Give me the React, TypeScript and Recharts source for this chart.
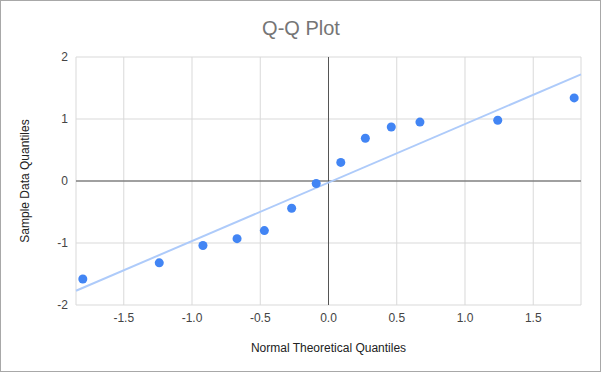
import React from 'react';
import { ScatterChart, Scatter, XAxis, YAxis, CartesianGrid, ReferenceLine } from 'recharts';

// theoretical quantiles (x) and sample quantiles (y)
const theoretical = [-1.8, -1.24, -0.92, -0.67, -0.47, -0.27, -0.09, 0.09, 0.27, 0.46, 0.67, 1.24, 1.8];
const sample = [-1.58, -1.32, -1.04, -0.93, -0.8, -0.44, -0.04, 0.3, 0.69, 0.87, 0.95, 0.98, 1.34];

// fitted line end points
const trendX = [-1.85, 1.85];
const trendY = [-1.77, 1.72];

const xTicks = [-1.5, -1.0, -0.5, 0, 0.5, 1.0, 1.5];
const yTicks = [-2, -1, 0, 1, 2];

const points = theoretical.map((x, i) => ({ x, y: sample[i] }));
const trend = trendX.map((x, i) => ({ x, y: trendY[i] }));

const FONT = '"Liberation Sans", Arial, sans-serif';

const App = () => {
  return (
    <div style={{ position: 'absolute', left: 0, top: 0, width: 601, height: 372, boxSizing: 'border-box', border: '1px solid #a8a8a8', background: '#fff', fontFamily: FONT }}>
      <div style={{ position: 'absolute', left: 0, width: 600, top: 16, textAlign: 'center', fontSize: 20, color: '#757575' }}>
        Q-Q Plot
      </div>
      <div style={{ position: 'absolute', left: -1, top: -1 }}>
        <ScatterChart width={602} height={373} margin={{ top: 57, right: 21, left: 0, bottom: 18 }}>
          <CartesianGrid stroke="#d9d9d9" />
          <XAxis
            type="number"
            dataKey="x"
            domain={[-1.85, 1.85]}
            ticks={xTicks}
            tickFormatter={(v) => v.toFixed(1)}
            axisLine={false}
            tickLine={false}
            height={50}
            tick={{ fill: '#444', fontSize: 12, fontFamily: FONT }}
            label={{ value: 'Normal Theoretical Quantiles', position: 'insideBottom', offset: 3, fill: '#222', fontSize: 12, fontFamily: FONT }}
          />
          <YAxis
            type="number"
            dataKey="y"
            domain={[-2, 2]}
            ticks={yTicks}
            axisLine={false}
            tickLine={false}
            width={76}
            tick={{ fill: '#444', fontSize: 12, fontFamily: FONT }}
            label={{ value: 'Sample Data Quantiles', angle: -90, position: 'insideLeft', offset: 25, fill: '#222', fontSize: 12, fontFamily: FONT, style: { textAnchor: 'middle' } }}
          />
          <ReferenceLine x={0} stroke="#555" />
          <ReferenceLine y={0} stroke="#555" />
          <Scatter data={trend} line={{ stroke: '#aecbfa', strokeWidth: 2 }} shape={() => <g />} isAnimationActive={false} />
          <Scatter data={points} fill="#4285f4" isAnimationActive={false} />
        </ScatterChart>
      </div>
    </div>
  );
};

export default App;
